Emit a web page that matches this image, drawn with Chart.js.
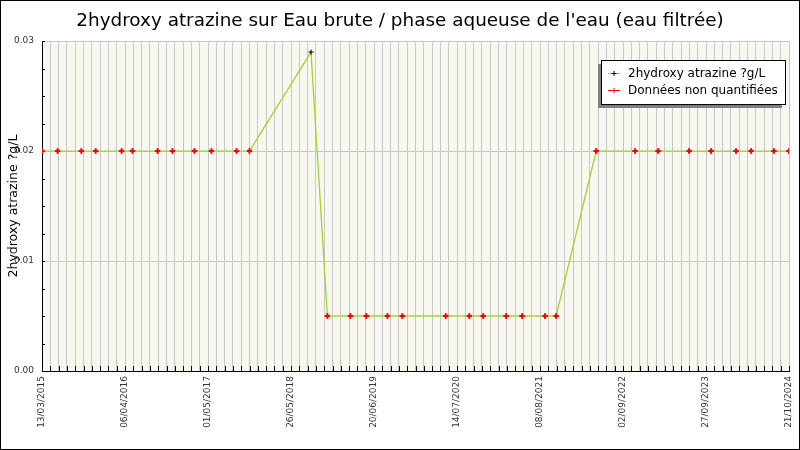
<!DOCTYPE html>
<html>
<head>
<meta charset="utf-8">
<script src="https://cdn.jsdelivr.net/npm/chart.js@4"></script>
<style>
  body { margin: 0; background: #fff; }
  #chart { display: block; outline: 1px solid #000; outline-offset: -1px; }
</style>
</head>
<body>
<canvas id="chart" width="800" height="450"></canvas>
<script>
const xTickLabels = ['13/03/2015', '06/04/2016', '01/05/2017', '26/05/2018', '20/06/2019',
  '14/07/2020', '08/08/2021', '02/09/2022', '27/09/2023', '21/10/2024'];

const dates = [
  '13/03/2015', '25/05/2015', '14/09/2015', '20/11/2015', '21/03/2016', '11/05/2016',
  '06/09/2016', '15/11/2016', '26/02/2017', '17/05/2017', '12/09/2017', '12/11/2017',
  '28/08/2018',
  '13/11/2018', '01/03/2019', '15/05/2019', '22/08/2019', '31/10/2019', '22/05/2020',
  '10/09/2020', '14/11/2020', '02/03/2021', '16/05/2021', '01/09/2021', '23/10/2021',
  '29/04/2022', '29/10/2022', '14/02/2023', '10/07/2023', '21/10/2023', '15/02/2024',
  '26/04/2024', '11/08/2024', '21/10/2024'
];

const valeurs = [
  0.02, 0.02, 0.02, 0.02, 0.02, 0.02, 0.02, 0.02, 0.02, 0.02, 0.02, 0.02,
  0.029,
  0.005, 0.005, 0.005, 0.005, 0.005, 0.005, 0.005, 0.005, 0.005, 0.005, 0.005, 0.005,
  0.02, 0.02, 0.02, 0.02, 0.02, 0.02, 0.02, 0.02, 0.02
];

// points "non quantifiés" (null = valeur quantifiée)
const valeursNQ = [
  0.02, 0.02, 0.02, 0.02, 0.02, 0.02, 0.02, 0.02, 0.02, 0.02, 0.02, 0.02,
  null,
  0.005, 0.005, 0.005, 0.005, 0.005, 0.005, 0.005, 0.005, 0.005, 0.005, 0.005, 0.005,
  0.02, 0.02, 0.02, 0.02, 0.02, 0.02, 0.02, 0.02, 0.02
];

const labelSerie = '2hydroxy atrazine ?g/L';
const labelNQ = 'Données non quantifiées';

const DAY = 86400000;
function parseDate(s) {
  const [d, m, y] = s.split('/').map(Number);
  return Date.UTC(y, m - 1, d);
}
const t0 = parseDate(xTickLabels[0]);
const tEnd = (parseDate(xTickLabels[xTickLabels.length - 1]) - t0) / DAY;
const majorStep = (parseDate(xTickLabels[1]) - t0) / DAY;
const jours = dates.map(d => Math.round((parseDate(d) - t0) / DAY));

const isMajorY = v => Math.abs(v * 100 - Math.round(v * 100)) < 1e-6;

const bgPlugin = {
  id: 'bg',
  beforeDraw(chart) {
    const { ctx, chartArea: a } = chart;
    ctx.save();
    ctx.fillStyle = '#fff';
    ctx.fillRect(0, 0, chart.width, chart.height);
    ctx.fillStyle = '#f8f8f0';
    ctx.fillRect(a.left, a.top, a.right - a.left, a.bottom - a.top);
    ctx.restore();
  }
};

// petits traits de graduation vers l'intérieur
const innerTicks = {
  id: 'innerTicks',
  beforeDatasetsDraw(chart) {
    const { ctx, chartArea: a, scales } = chart;
    ctx.save();
    ctx.strokeStyle = '#000';
    ctx.lineWidth = 1;
    ctx.beginPath();
    scales.x.ticks.forEach(t => {
      const px = Math.round(scales.x.getPixelForValue(t.value)) + 0.5;
      ctx.moveTo(px, a.bottom);
      ctx.lineTo(px, a.bottom - 5);
    });
    scales.y.ticks.forEach(t => {
      const py = Math.round(scales.y.getPixelForValue(t.value)) + 0.5;
      ctx.moveTo(a.left, py);
      ctx.lineTo(a.left + 3, py);
    });
    ctx.stroke();
    ctx.restore();
  }
};

const boxLegend = {
  id: 'boxLegend',
  afterDraw(chart) {
    const ctx = chart.ctx;
    const x = 601, y = 60, w = 184, h = 44;
    ctx.save();
    ctx.fillStyle = '#808080';
    ctx.fillRect(x - 3, y + 4, w, h);
    ctx.fillStyle = '#fff';
    ctx.fillRect(x, y, w, h);
    ctx.strokeStyle = '#000';
    ctx.lineWidth = 1;
    ctx.strokeRect(x + 0.5, y + 0.5, w, h);
    const items = [chart.data.datasets[1], chart.data.datasets[0]];
    items.forEach((ds, i) => {
      const cy = y + 13 + i * 17;
      ctx.strokeStyle = ds.legendLine;
      ctx.lineWidth = 1;
      ctx.beginPath();
      ctx.moveTo(x + 7, cy + 0.5);
      ctx.lineTo(x + 19, cy + 0.5);
      ctx.stroke();
      ctx.strokeStyle = ds.pointBorderColor;
      Chart.helpers.drawPoint(ctx, {
        pointStyle: ds.pointStyle, radius: ds.pointRadius,
        borderWidth: ds.pointBorderWidth, rotation: 0
      }, x + 13, cy + 0.5);
      ctx.fillStyle = '#000';
      ctx.font = '12px "DejaVu Sans"';
      ctx.textBaseline = 'middle';
      ctx.textAlign = 'left';
      ctx.fillText(ds.label, x + 27, cy + 1);
    });
    ctx.restore();
  }
};

new Chart(document.getElementById('chart'), {
  type: 'line',
  data: {
    datasets: [
      {
        label: labelNQ,
        data: jours.map((j, i) => ({ x: j, y: valeursNQ[i] })),
        showLine: false,
        pointStyle: 'cross',
        pointRadius: 2.7,
        pointBorderWidth: 2,
        pointBorderColor: '#ff0000',
        pointBackgroundColor: '#ff0000',
        legendLine: '#ff0000',
        order: 0
      },
      {
        label: labelSerie,
        data: jours.map((j, i) => ({ x: j, y: valeurs[i] })),
        borderColor: '#a6d22e',
        borderWidth: 1.3,
        tension: 0,
        pointStyle: 'cross',
        pointRadius: 2.5,
        pointBorderWidth: 1,
        pointBorderColor: '#000',
        pointBackgroundColor: '#000',
        legendLine: '#a6d22e',
        order: 1
      }
    ]
  },
  options: {
    responsive: false,
    animation: false,
    layout: { padding: 0 },
    plugins: {
      legend: { display: false },
      tooltip: { enabled: false },
      title: {
        display: true,
        text: "2hydroxy atrazine sur Eau brute / phase aqueuse de l'eau (eau filtrée)",
        color: '#000',
        font: { family: '"DejaVu Sans"', size: 18.4, weight: 'normal' },
        padding: { top: 10, bottom: 9 }
      }
    },
    scales: {
      x: {
        type: 'linear',
        min: 0,
        max: tEnd,
        afterFit: s => { s.height = 79; s.paddingLeft = 0; s.paddingRight = 11; },
        border: { display: true, color: '#000', width: 1 },
        grid: { color: '#c8c8c8', lineWidth: 1, drawTicks: false },
        ticks: {
          stepSize: majorStep / 10,
          autoSkip: false,
          minRotation: 90,
          maxRotation: 90,
          padding: 5,
          color: '#333',
          font: { family: '"DejaVu Sans"', size: 9 },
          callback: v => (Math.round(v) % majorStep === 0 ? xTickLabels[Math.round(v) / majorStep] : '')
        }
      },
      y: {
        min: 0,
        max: 0.03,
        afterFit: s => { s.width = 42; },
        border: { display: true, color: '#000', width: 1 },
        grid: {
          color: c => (c.tick && isMajorY(c.tick.value) ? '#c8c8c8' : 'rgba(0,0,0,0)'),
          drawTicks: false
        },
        title: {
          display: true,
          text: labelSerie,
          color: '#000',
          font: { family: '"DejaVu Sans"', size: 12.5 },
          padding: { top: 6, bottom: 0 }
        },
        ticks: {
          stepSize: 0.0025,
          autoSkip: false,
          padding: 8,
          color: '#333',
          font: { family: '"DejaVu Sans"', size: 9 },
          callback: v => (isMajorY(v) ? v.toFixed(2) : '')
        }
      }
    }
  },
  plugins: [bgPlugin, innerTicks, boxLegend]
});
</script>
</body>
</html>
